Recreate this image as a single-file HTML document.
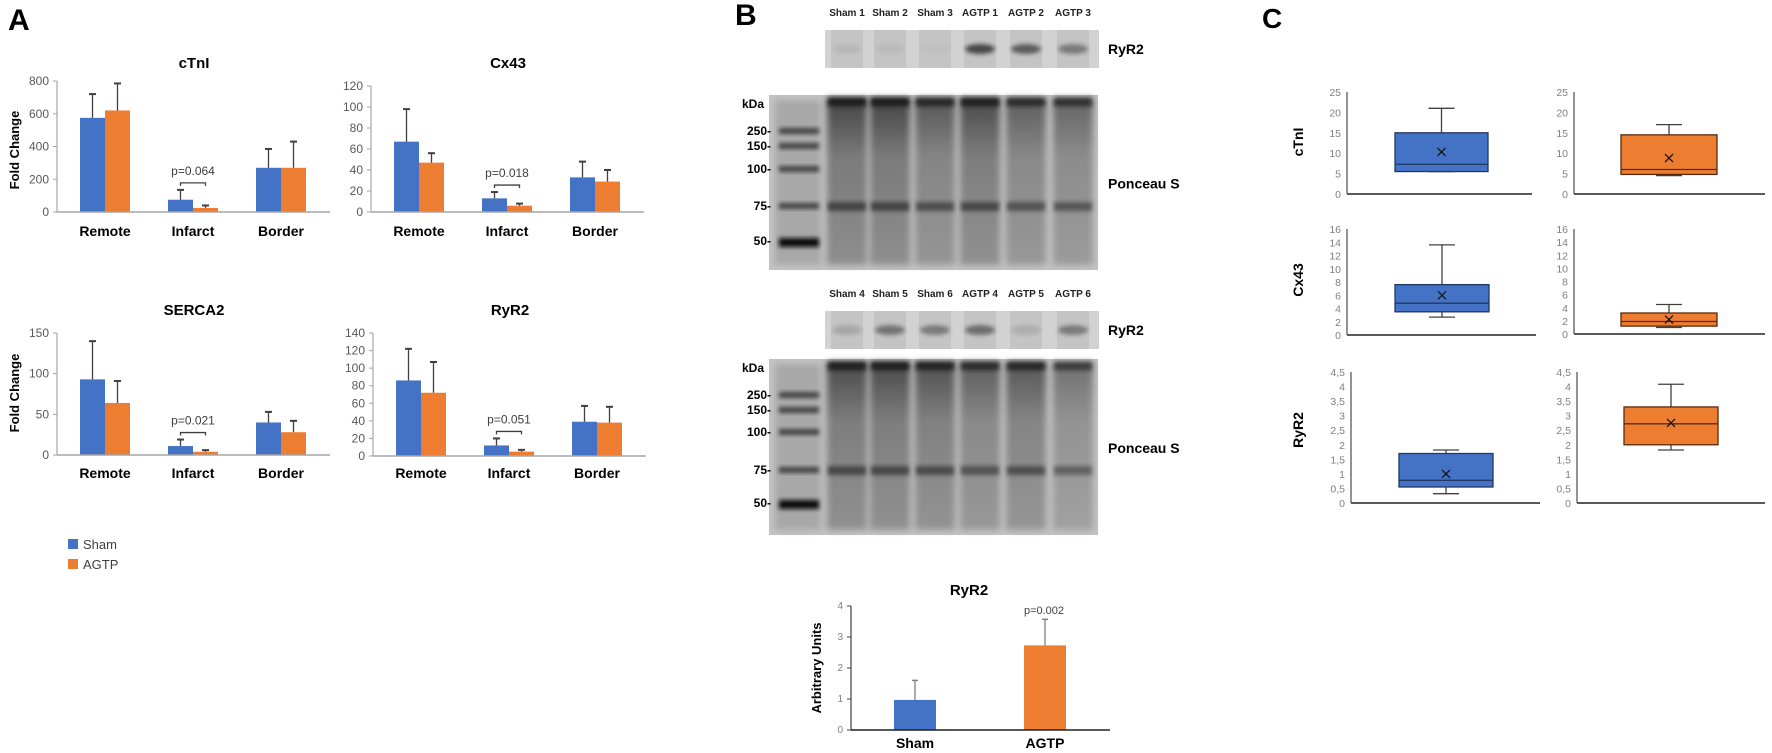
<!DOCTYPE html>
<html><head><meta charset="utf-8">
<style>
html,body{margin:0;padding:0;background:#fff;}
svg{display:block;font-family:"Liberation Sans",Arial,sans-serif;}
</style></head>
<body>
<svg id="fig" xmlns="http://www.w3.org/2000/svg" width="1772" height="753" viewBox="0 0 1772 753">
<defs>
<filter id="blur2" x="-20%" y="-50%" width="140%" height="200%"><feGaussianBlur stdDeviation="2"/></filter>
<filter id="blur4" x="-20%" y="-20%" width="140%" height="140%"><feGaussianBlur stdDeviation="3.5"/></filter>
<linearGradient id="laneGrad" x1="0" y1="0" x2="0" y2="1">
<stop offset="0" stop-color="#3a3a3a"/><stop offset="0.05" stop-color="#4a4a4a"/><stop offset="0.35" stop-color="#7a7a7a"/><stop offset="1" stop-color="#8e8e8e"/>
</linearGradient>
</defs>
<text x="8" y="30" font-size="30" font-weight="bold">A</text>
<text x="735" y="25" font-size="30" font-weight="bold">B</text>
<text x="1262" y="28" font-size="28" font-weight="bold">C</text>
<g id="panelA"></g>
<g id="panelB"></g>
<g id="panelC"></g>
</svg>
<script>
// ---------- Panel A data ----------
const categories = ["Remote", "Infarct", "Border"];
const ctniSham = [575, 75, 270];
const ctniShamErr = [145, 60, 115];
const ctniAgtp = [620, 25, 270];
const ctniAgtpErr = [165, 15, 160];
const cx43Sham = [67, 13, 33];
const cx43ShamErr = [31, 6, 15];
const cx43Agtp = [47, 6, 29];
const cx43AgtpErr = [9, 2, 11];
const sercaSham = [93, 11, 40];
const sercaShamErr = [47, 8, 13];
const sercaAgtp = [64, 4, 28];
const sercaAgtpErr = [27, 2, 14];
const ryrSham = [86, 12, 39];
const ryrShamErr = [36, 8, 18];
const ryrAgtp = [72, 5, 38];
const ryrAgtpErr = [35, 2, 18];
const ctniTicks = [0, 200, 400, 600, 800];
const cx43Ticks = [0, 20, 40, 60, 80, 100, 120];
const sercaTicks = [0, 50, 100, 150];
const ryrTicks = [0, 20, 40, 60, 80, 100, 120, 140];
const pValues = ["p=0.064", "p=0.018", "p=0.021", "p=0.051"];
// ---------- Panel B data ----------
const bGroups = ["Sham", "AGTP"];
const bValues = [0.97, 2.73];
const bErr = [0.63, 0.84];
const bTicks = [0, 1, 2, 3, 4];
const blotLabels1 = ["Sham 1", "Sham 2", "Sham 3", "AGTP 1", "AGTP 2", "AGTP 3"];
const blotLabels2 = ["Sham 4", "Sham 5", "Sham 6", "AGTP 4", "AGTP 5", "AGTP 6"];
const ryrBand1 = [0.08, 0.06, 0.03, 0.85, 0.7, 0.5];
const ryrBand2 = [0.2, 0.55, 0.5, 0.6, 0.15, 0.5];
const kdaMarkers = ["250-", "150-", "100-", "75-", "50-"];
// ---------- Panel C data (min, q1, median, q3, max, mean) ----------
const ctniBoxSham = [5.5, 5.5, 7.3, 15, 21, 10.3];
const ctniBoxAgtp = [4.5, 4.8, 6, 14.5, 17, 8.8];
const cx43BoxSham = [2.7, 3.5, 4.8, 7.6, 13.6, 6];
const cx43BoxAgtp = [1.0, 1.2, 1.9, 3.2, 4.5, 2.2];
const ryrBoxSham = [0.32, 0.55, 0.78, 1.7, 1.82, 1.0];
const ryrBoxAgtp = [1.82, 2.0, 2.72, 3.3, 4.08, 2.75];
const cTicks1 = ["0","5","10","15","20","25"];
const cTicks2 = ["0","2","4","6","8","10","12","14","16"];
const cTicks3 = ["0","0,5","1","1,5","2","2,5","3","3,5","4","4,5"];

const NS = "http://www.w3.org/2000/svg";
const BLUE = "#4472C4", ORANGE = "#ED7D31";
function mk(parent, tag, attrs, txt) {
  const e = document.createElementNS(NS, tag);
  for (const k in attrs) e.setAttribute(k, attrs[k]);
  if (txt !== undefined) e.textContent = txt;
  parent.appendChild(e);
  return e;
}

function barChart(parent, o) {
  const g = mk(parent, "g", {});
  
  
  const max = o.ticks[o.ticks.length - 1];
  const yS = v => o.yBot - (v / max) * (o.yBot - o.yTop);
  const xC = i => o.x0 + 48 + i * 88;
  const t = mk(g, "text", {x: o.x0 + 137, y: o.titleY, "font-size": 15, "font-weight": "bold", "text-anchor": "middle"}, o.title);
  
  
  o.ticks.forEach(v => {
    const tl = mk(g, "text", {x: o.x0 - 8, y: yS(v) + 4, "font-size": 12, fill: "#595959", "text-anchor": "end"}, String(v));
    
    
    mk(g, "line", {x1: o.x0 - 4, x2: o.x0, y1: yS(v), y2: yS(v), stroke: "#a6a6a6", "stroke-width": 1});
  });
  const ya = mk(g, "line", {x1: o.x0, x2: o.x0, y1: o.yTop, y2: o.yBot, stroke: "#a6a6a6", "stroke-width": 1.2});
  
  
  const series = [[o.sham, o.shamErr, BLUE, -25], [o.agtp, o.agtpErr, ORANGE, 0]];
  categories.forEach((c, i) => {
    series.forEach((s, si) => {
      const v = s[0][i], e = s[1][i];
      const bx = xC(i) + s[3];
      const r = mk(g, "rect", {x: bx, y: yS(v), width: 25, height: o.yBot - yS(v), fill: s[2]});
      
      
      const cx = bx + 12.5;
      mk(g, "line", {x1: cx, x2: cx, y1: yS(v), y2: yS(v + e), stroke: "#404040", "stroke-width": 1.3});
      const cap = mk(g, "line", {x1: cx - 3.5, x2: cx + 3.5, y1: yS(v + e), y2: yS(v + e), stroke: "#404040", "stroke-width": 2});
      
      
    });
    const cl = mk(g, "text", {x: xC(i), y: o.catY, "font-size": 14, "font-weight": "bold", "text-anchor": "middle"}, c);
    
    
  });
  const xa = mk(g, "line", {x1: o.x0, x2: o.x0 + 273, y1: o.yBot, y2: o.yBot, stroke: "#a6a6a6", "stroke-width": 1.5});
  
  
  // significance bracket on infarct
  const top = Math.min(yS(o.sham[1] + o.shamErr[1]), yS(o.agtp[1] + o.agtpErr[1]));
  const by = top - 7;
  const bx1 = xC(1) - 12.5, bx2 = xC(1) + 12.5;
  const br = mk(g, "path", {d: `M${bx1} ${by + 3} V${by} H${bx2} V${by + 3}`, stroke: "#404040", "stroke-width": 1.3, fill: "none"});
  
  
  const pt = mk(g, "text", {x: xC(1), y: by - 8, "font-size": 12, fill: "#404040", "text-anchor": "middle"}, o.p);
  
  
}

const A = document.getElementById("panelA");
barChart(A, {name: "ctni-bar-chart", title: "cTnI", titleY: 68, x0: 57, yTop: 81, yBot: 212, ticks: ctniTicks, sham: ctniSham, shamErr: ctniShamErr, agtp: ctniAgtp, agtpErr: ctniAgtpErr, catY: 236, p: pValues[0]});
barChart(A, {name: "cx43-bar-chart", title: "Cx43", titleY: 68, x0: 371, yTop: 86, yBot: 212, ticks: cx43Ticks, sham: cx43Sham, shamErr: cx43ShamErr, agtp: cx43Agtp, agtpErr: cx43AgtpErr, catY: 236, p: pValues[1]});
barChart(A, {name: "serca2-bar-chart", title: "SERCA2", titleY: 315, x0: 57, yTop: 333, yBot: 455, ticks: sercaTicks, sham: sercaSham, shamErr: sercaShamErr, agtp: sercaAgtp, agtpErr: sercaAgtpErr, catY: 478, p: pValues[2]});
barChart(A, {name: "ryr2-bar-chart", title: "RyR2", titleY: 315, x0: 373, yTop: 333, yBot: 456, ticks: ryrTicks, sham: ryrSham, shamErr: ryrShamErr, agtp: ryrAgtp, agtpErr: ryrAgtpErr, catY: 478, p: pValues[3]});
[[150], [393]].forEach(([cy]) => {
  const yt = mk(A, "text", {x: 0, y: 0, "font-size": 13, "font-weight": "bold", "text-anchor": "middle", transform: `translate(19 ${cy}) rotate(-90)`}, "Fold Change");
  
  
});
[["Sham", BLUE, 539], ["AGTP", ORANGE, 559]].forEach(([lab, col, y]) => {
  const lg = mk(A, "g", {});
  
  
  mk(lg, "rect", {x: 68, y: y, width: 10, height: 10, fill: col});
  mk(lg, "text", {x: 83, y: y + 10, "font-size": 13, fill: "#404040"}, lab);
});

// ---------- Panel B ----------
const B = document.getElementById("panelB");
const laneX1 = [847, 890, 935, 980, 1026, 1073];
function ryrStrip(y0, labels, bands, name, labY) {
  const g = mk(B, "g", {});
  
  
  mk(g, "rect", {x: 825, y: y0, width: 274, height: 38, fill: "#d2d2d2"});
  laneX1.forEach((cx, i) => {
    mk(g, "rect", {x: cx - 16, y: y0, width: 32, height: 38, fill: "#c4c4c4"});
    const a = bands[i];
    const b = mk(g, "ellipse", {cx: cx, cy: y0 + 19, rx: 15, ry: 5, fill: "#303030", opacity: a, filter: "url(#blur2)"});
    
    
    const l = mk(B, "text", {x: cx, y: labY, "font-size": 10, "font-weight": "bold", "text-anchor": "middle", fill: "#222"}, labels[i]);
    
    
  });
  const rl = mk(B, "text", {x: 1108, y: y0 + 24, "font-size": 14, "font-weight": "bold"}, "RyR2");
  
  
}
function ponceau(y0, h, kdaY, name, dark) {
  const g = mk(B, "g", {});
  
  
  mk(g, "rect", {x: 769, y: y0, width: 329, height: h, fill: "#c3c3c3"});
  mk(g, "rect", {x: 775, y: y0 + 5, width: 46, height: h - 10, fill: "#a8a8a8", filter: "url(#blur4)"});
  kdaY.forEach((ky, i) => {
    mk(g, "rect", {x: 779, y: ky - 3, width: 40, height: i === 4 ? 9 : 6, fill: i === 4 ? "#111" : "#444", filter: "url(#blur2)"});
  });
  laneX1.forEach((cx, i) => {
    mk(g, "rect", {x: cx - 20, y: y0 + 3, width: 40, height: h - 8, fill: "url(#laneGrad)", opacity: dark[i], filter: "url(#blur4)"});
    mk(g, "rect", {x: cx - 19, y: y0 + 3, width: 38, height: 8, fill: "#1e1e1e", opacity: dark[i], filter: "url(#blur2)"});
    mk(g, "rect", {x: cx - 19, y: kdaY[3] - 4, width: 38, height: 9, fill: "#444", opacity: dark[i], filter: "url(#blur2)"});
  });
  const kd = mk(B, "text", {x: 742, y: y0 + 13, "font-size": 12, "font-weight": "bold"}, "kDa");
  
  
  kdaMarkers.forEach((m, i) => {
    const t = mk(B, "text", {x: 771, y: kdaY[i] + 4, "font-size": 12, "font-weight": "bold", "text-anchor": "end"}, m);
    
    
  });
  const ps = mk(B, "text", {x: 1108, y: y0 + (h / 2) - 24 + 30, "font-size": 14, "font-weight": "bold"}, "Ponceau S");
  
  
}
ryrStrip(30, blotLabels1, ryrBand1, "ryr2-blot-1", 16);
ponceau(95, 175, [131, 146, 169, 206, 241], "ponceau-blot-1", [1, 1, 0.85, 0.95, 0.8, 0.75]);
ryrStrip(311, blotLabels2, ryrBand2, "ryr2-blot-2", 297);
ponceau(359, 176, [395, 410, 432, 470, 503], "ponceau-blot-2", [0.95, 0.95, 0.9, 0.8, 0.85, 0.65]);

(function () {
  const g = mk(B, "g", {});
  
  
  const x0 = 851, x1 = 1110, yTop = 606, yBot = 730;
  const max = bTicks[bTicks.length - 1];
  const yS = v => yBot - (v / max) * (yBot - yTop);
  const xC = [915, 1045];
  mk(g, "text", {x: 969, y: 595, "font-size": 15, "font-weight": "bold", "text-anchor": "middle"}, "RyR2");
  bTicks.forEach(v => {
    mk(g, "text", {x: 843, y: yS(v) + 3, "font-size": 10, fill: "#7f7f7f", "text-anchor": "end"}, String(v));
    mk(g, "line", {x1: x0 - 4, x2: x0, y1: yS(v), y2: yS(v), stroke: "#404040"});
  });
  mk(g, "line", {x1: x0, x2: x0, y1: yTop, y2: yBot, stroke: "#404040", "stroke-width": 1.2});
  bGroups.forEach((grp, i) => {
    const r = mk(g, "rect", {x: xC[i] - 21, y: yS(bValues[i]), width: 42, height: yBot - yS(bValues[i]), fill: i ? ORANGE : BLUE});
    
    
    mk(g, "line", {x1: xC[i], x2: xC[i], y1: yS(bValues[i]), y2: yS(bValues[i] + bErr[i]), stroke: "#808080", "stroke-width": 1.3});
    mk(g, "line", {x1: xC[i] - 3, x2: xC[i] + 3, y1: yS(bValues[i] + bErr[i]), y2: yS(bValues[i] + bErr[i]), stroke: "#808080", "stroke-width": 1.5});
    const l = mk(g, "text", {x: xC[i], y: 748, "font-size": 14, "font-weight": "bold", "text-anchor": "middle"}, grp);
    
    
  });
  mk(g, "line", {x1: x0, x2: x1, y1: yBot, y2: yBot, stroke: "#202020", "stroke-width": 1.5});
  mk(g, "text", {x: 1044, y: 614, "font-size": 11, fill: "#404040", "text-anchor": "middle"}, "p=0.002");
  mk(g, "text", {x: 0, y: 0, "font-size": 13, "font-weight": "bold", "text-anchor": "middle", transform: "translate(821 668) rotate(-90)"}, "Arbitrary Units");
})();

// ---------- Panel C ----------
const C = document.getElementById("panelC");
function boxChart(o) {
  const g = mk(C, "g", {});
  
  
  const n = o.ticks.length - 1;
  const max = parseFloat(o.ticks[n].replace(",", "."));
  const yS = v => o.yBot - (v / max) * (o.yBot - o.yTop);
  o.ticks.forEach(t => {
    const v = parseFloat(t.replace(",", "."));
    mk(g, "text", {x: o.x0 - 6, y: yS(v) + 4, "font-size": 10.5, fill: "#7f7f7f", "text-anchor": "end"}, t);
  });
  mk(g, "line", {x1: o.x0, x2: o.x0, y1: o.yTop, y2: o.yBot, stroke: "#595959", "stroke-width": 1.3});
  mk(g, "line", {x1: o.x0, x2: o.x1, y1: o.yBot, y2: o.yBot, stroke: "#595959", "stroke-width": 2});
  const d = o.data;
  const cx = o.bx + o.bw / 2;
  const edge = o.fill === BLUE ? "#1f3864" : "#5a2a0c";
  mk(g, "line", {x1: cx, x2: cx, y1: yS(d[4]), y2: yS(d[3]), stroke: "#404040", "stroke-width": 1.3});
  mk(g, "line", {x1: cx, x2: cx, y1: yS(d[1]), y2: yS(d[0]), stroke: "#404040", "stroke-width": 1.3});
  mk(g, "line", {x1: cx - 13, x2: cx + 13, y1: yS(d[4]), y2: yS(d[4]), stroke: "#404040", "stroke-width": 1.3});
  mk(g, "line", {x1: cx - 13, x2: cx + 13, y1: yS(d[0]), y2: yS(d[0]), stroke: "#404040", "stroke-width": 1.3});
  const box = mk(g, "rect", {x: o.bx, y: yS(d[3]), width: o.bw, height: yS(d[1]) - yS(d[3]), fill: o.fill, stroke: edge, "stroke-width": 1.3});
  
  
  mk(g, "line", {x1: o.bx, x2: o.bx + o.bw, y1: yS(d[2]), y2: yS(d[2]), stroke: edge, "stroke-width": 1.3});
  const my = yS(d[5]);
  const mg = mk(g, "path", {d: `M${cx - 4} ${my - 4} L${cx + 4} ${my + 4} M${cx - 4} ${my + 4} L${cx + 4} ${my - 4}`, stroke: "#111", "stroke-width": 1.2});
  
  
}
boxChart({name: "ctni-box-sham", x0: 1347, x1: 1532, yTop: 92, yBot: 194, ticks: cTicks1, data: ctniBoxSham, bx: 1395, bw: 93, fill: BLUE});
boxChart({name: "ctni-box-agtp", x0: 1574, x1: 1765, yTop: 92, yBot: 194, ticks: cTicks1, data: ctniBoxAgtp, bx: 1621, bw: 96, fill: ORANGE});
boxChart({name: "cx43-box-sham", x0: 1347, x1: 1536, yTop: 229, yBot: 335, ticks: cTicks2, data: cx43BoxSham, bx: 1395, bw: 94, fill: BLUE});
boxChart({name: "cx43-box-agtp", x0: 1574, x1: 1765, yTop: 229, yBot: 334, ticks: cTicks2, data: cx43BoxAgtp, bx: 1621, bw: 96, fill: ORANGE});
boxChart({name: "ryr2-box-sham", x0: 1351, x1: 1540, yTop: 372, yBot: 503, ticks: cTicks3, data: ryrBoxSham, bx: 1399, bw: 94, fill: BLUE});
boxChart({name: "ryr2-box-agtp", x0: 1577, x1: 1765, yTop: 372, yBot: 503, ticks: cTicks3, data: ryrBoxAgtp, bx: 1624, bw: 94, fill: ORANGE});
[["cTnI", 142], ["Cx43", 280], ["RyR2", 430]].forEach(([lab, cy]) => {
  const t = mk(C, "text", {x: 0, y: 0, "font-size": 14, "font-weight": "bold", "text-anchor": "middle", transform: `translate(1303 ${cy}) rotate(-90)`}, lab);
  
  
});
</script>
</body></html>
